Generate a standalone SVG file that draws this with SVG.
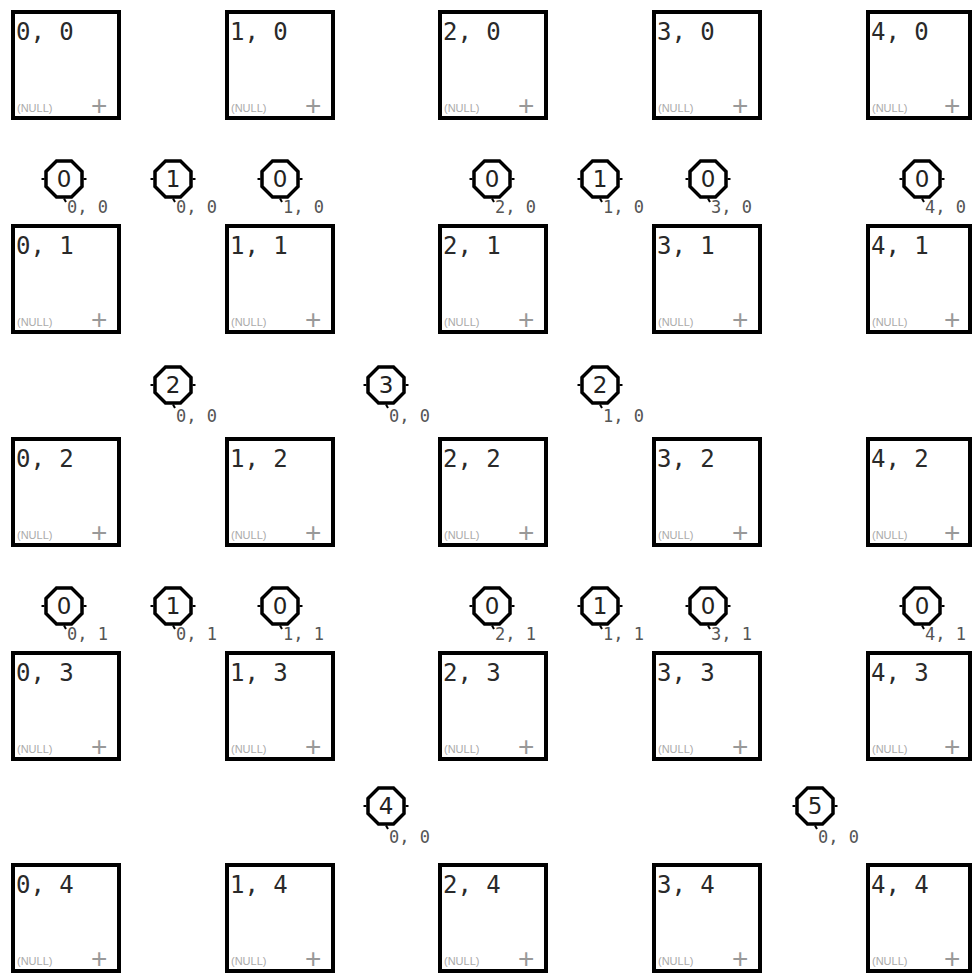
<svg xmlns="http://www.w3.org/2000/svg" width="972" height="974" viewBox="0 0 972 974">
<style>
.box{fill:#fff;stroke:#000;stroke-width:4}
.bl{font-family:"DejaVu Sans Mono",monospace;font-size:24px;fill:#2a2a2a}
.nl{font-family:"Liberation Sans",sans-serif;font-size:11px;fill:#aaa}
.pl{font-family:"Liberation Sans",sans-serif;font-size:28px;fill:#999}
.oct{fill:#fff;stroke:#000;stroke-width:3.5}
.tick{stroke:#000;stroke-width:2}
.dg{font-family:"DejaVu Sans",sans-serif;font-size:23px;fill:#222;text-anchor:middle}
.sl{font-family:"DejaVu Sans Mono",monospace;font-size:17px;fill:#555}
</style>
<defs>
<g id="octa">
<polygon class="oct" points="18,-7.5 7.5,-18 -7.5,-18 -18,-7.5 -18,7.5 -7.5,18 7.5,18 18,7.5"/>
<line class="tick" x1="-19.5" y1="0" x2="-22.5" y2="0"/>
<line class="tick" x1="19.5" y1="0" x2="22.5" y2="0"/>
<line class="tick" x1="0" y1="19.5" x2="2" y2="23"/>
</g>
<rect id="bx" class="box" x="2" y="2" width="106" height="106"/>
<rect id="bxe" class="box" x="2" y="2" width="102" height="106"/>
</defs>
<rect width="972" height="974" fill="#fff"/>
<g id="connectors"/>
<g id="cells">
<g id="c0_0" transform="translate(11,10)"><use href="#bx"/><text class="bl" x="5" y="30">0, 0</text><text class="nl" x="6" y="102">(NULL)</text><text class="pl" x="80" y="105">+</text></g>
<g id="c1_0" transform="translate(225,10)"><use href="#bx"/><text class="bl" x="5" y="30">1, 0</text><text class="nl" x="6" y="102">(NULL)</text><text class="pl" x="80" y="105">+</text></g>
<g id="c2_0" transform="translate(438,10)"><use href="#bx"/><text class="bl" x="5" y="30">2, 0</text><text class="nl" x="6" y="102">(NULL)</text><text class="pl" x="80" y="105">+</text></g>
<g id="c3_0" transform="translate(652,10)"><use href="#bx"/><text class="bl" x="5" y="30">3, 0</text><text class="nl" x="6" y="102">(NULL)</text><text class="pl" x="80" y="105">+</text></g>
<g id="c4_0" transform="translate(866,10)"><use href="#bxe"/><text class="bl" x="5" y="30">4, 0</text><text class="nl" x="6" y="102">(NULL)</text><text class="pl" x="78" y="105">+</text></g>

<g id="c0_1" transform="translate(11,224)"><use href="#bx"/><text class="bl" x="5" y="30">0, 1</text><text class="nl" x="6" y="102">(NULL)</text><text class="pl" x="80" y="105">+</text></g>
<g id="c1_1" transform="translate(225,224)"><use href="#bx"/><text class="bl" x="5" y="30">1, 1</text><text class="nl" x="6" y="102">(NULL)</text><text class="pl" x="80" y="105">+</text></g>
<g id="c2_1" transform="translate(438,224)"><use href="#bx"/><text class="bl" x="5" y="30">2, 1</text><text class="nl" x="6" y="102">(NULL)</text><text class="pl" x="80" y="105">+</text></g>
<g id="c3_1" transform="translate(652,224)"><use href="#bx"/><text class="bl" x="5" y="30">3, 1</text><text class="nl" x="6" y="102">(NULL)</text><text class="pl" x="80" y="105">+</text></g>
<g id="c4_1" transform="translate(866,224)"><use href="#bxe"/><text class="bl" x="5" y="30">4, 1</text><text class="nl" x="6" y="102">(NULL)</text><text class="pl" x="78" y="105">+</text></g>

<g id="c0_2" transform="translate(11,437)"><use href="#bx"/><text class="bl" x="5" y="30">0, 2</text><text class="nl" x="6" y="102">(NULL)</text><text class="pl" x="80" y="105">+</text></g>
<g id="c1_2" transform="translate(225,437)"><use href="#bx"/><text class="bl" x="5" y="30">1, 2</text><text class="nl" x="6" y="102">(NULL)</text><text class="pl" x="80" y="105">+</text></g>
<g id="c2_2" transform="translate(438,437)"><use href="#bx"/><text class="bl" x="5" y="30">2, 2</text><text class="nl" x="6" y="102">(NULL)</text><text class="pl" x="80" y="105">+</text></g>
<g id="c3_2" transform="translate(652,437)"><use href="#bx"/><text class="bl" x="5" y="30">3, 2</text><text class="nl" x="6" y="102">(NULL)</text><text class="pl" x="80" y="105">+</text></g>
<g id="c4_2" transform="translate(866,437)"><use href="#bxe"/><text class="bl" x="5" y="30">4, 2</text><text class="nl" x="6" y="102">(NULL)</text><text class="pl" x="78" y="105">+</text></g>

<g id="c0_3" transform="translate(11,651)"><use href="#bx"/><text class="bl" x="5" y="30">0, 3</text><text class="nl" x="6" y="102">(NULL)</text><text class="pl" x="80" y="105">+</text></g>
<g id="c1_3" transform="translate(225,651)"><use href="#bx"/><text class="bl" x="5" y="30">1, 3</text><text class="nl" x="6" y="102">(NULL)</text><text class="pl" x="80" y="105">+</text></g>
<g id="c2_3" transform="translate(438,651)"><use href="#bx"/><text class="bl" x="5" y="30">2, 3</text><text class="nl" x="6" y="102">(NULL)</text><text class="pl" x="80" y="105">+</text></g>
<g id="c3_3" transform="translate(652,651)"><use href="#bx"/><text class="bl" x="5" y="30">3, 3</text><text class="nl" x="6" y="102">(NULL)</text><text class="pl" x="80" y="105">+</text></g>
<g id="c4_3" transform="translate(866,651)"><use href="#bxe"/><text class="bl" x="5" y="30">4, 3</text><text class="nl" x="6" y="102">(NULL)</text><text class="pl" x="78" y="105">+</text></g>

<g id="c0_4" transform="translate(11,863)"><use href="#bx"/><text class="bl" x="5" y="30">0, 4</text><text class="nl" x="6" y="102">(NULL)</text><text class="pl" x="80" y="105">+</text></g>
<g id="c1_4" transform="translate(225,863)"><use href="#bx"/><text class="bl" x="5" y="30">1, 4</text><text class="nl" x="6" y="102">(NULL)</text><text class="pl" x="80" y="105">+</text></g>
<g id="c2_4" transform="translate(438,863)"><use href="#bx"/><text class="bl" x="5" y="30">2, 4</text><text class="nl" x="6" y="102">(NULL)</text><text class="pl" x="80" y="105">+</text></g>
<g id="c3_4" transform="translate(652,863)"><use href="#bx"/><text class="bl" x="5" y="30">3, 4</text><text class="nl" x="6" y="102">(NULL)</text><text class="pl" x="80" y="105">+</text></g>
<g id="c4_4" transform="translate(866,863)"><use href="#bxe"/><text class="bl" x="5" y="30">4, 4</text><text class="nl" x="6" y="102">(NULL)</text><text class="pl" x="78" y="105">+</text></g>
</g>
<g id="markers">
<g id="m_a1" transform="translate(64,179)"><use href="#octa"/><text class="dg" x="0" y="8">0</text><text class="sl" x="3" y="34">0, 0</text></g>
<g id="m_a2" transform="translate(173,179)"><use href="#octa"/><text class="dg" x="0" y="8">1</text><text class="sl" x="3" y="34">0, 0</text></g>
<g id="m_a3" transform="translate(280,179)"><use href="#octa"/><text class="dg" x="0" y="8">0</text><text class="sl" x="3" y="34">1, 0</text></g>
<g id="m_a4" transform="translate(492,179)"><use href="#octa"/><text class="dg" x="0" y="8">0</text><text class="sl" x="3" y="34">2, 0</text></g>
<g id="m_a5" transform="translate(600,179)"><use href="#octa"/><text class="dg" x="0" y="8">1</text><text class="sl" x="3" y="34">1, 0</text></g>
<g id="m_a6" transform="translate(708,179)"><use href="#octa"/><text class="dg" x="0" y="8">0</text><text class="sl" x="3" y="34">3, 0</text></g>
<g id="m_a7" transform="translate(922,179)"><use href="#octa"/><text class="dg" x="0" y="8">0</text><text class="sl" x="3" y="34">4, 0</text></g>

<g id="m_b1" transform="translate(173,385)"><use href="#octa"/><text class="dg" x="0" y="8">2</text><text class="sl" x="3" y="37">0, 0</text></g>
<g id="m_b2" transform="translate(386,385)"><use href="#octa"/><text class="dg" x="0" y="8">3</text><text class="sl" x="3" y="37">0, 0</text></g>
<g id="m_b3" transform="translate(600,385)"><use href="#octa"/><text class="dg" x="0" y="8">2</text><text class="sl" x="3" y="37">1, 0</text></g>

<g id="m_c1" transform="translate(64,606)"><use href="#octa"/><text class="dg" x="0" y="8">0</text><text class="sl" x="3" y="34">0, 1</text></g>
<g id="m_c2" transform="translate(173,606)"><use href="#octa"/><text class="dg" x="0" y="8">1</text><text class="sl" x="3" y="34">0, 1</text></g>
<g id="m_c3" transform="translate(280,606)"><use href="#octa"/><text class="dg" x="0" y="8">0</text><text class="sl" x="3" y="34">1, 1</text></g>
<g id="m_c4" transform="translate(492,606)"><use href="#octa"/><text class="dg" x="0" y="8">0</text><text class="sl" x="3" y="34">2, 1</text></g>
<g id="m_c5" transform="translate(600,606)"><use href="#octa"/><text class="dg" x="0" y="8">1</text><text class="sl" x="3" y="34">1, 1</text></g>
<g id="m_c6" transform="translate(708,606)"><use href="#octa"/><text class="dg" x="0" y="8">0</text><text class="sl" x="3" y="34">3, 1</text></g>
<g id="m_c7" transform="translate(922,606)"><use href="#octa"/><text class="dg" x="0" y="8">0</text><text class="sl" x="3" y="34">4, 1</text></g>

<g id="m_d1" transform="translate(386,806)"><use href="#octa"/><text class="dg" x="0" y="8">4</text><text class="sl" x="3" y="37">0, 0</text></g>
<g id="m_d2" transform="translate(815,806)"><use href="#octa"/><text class="dg" x="0" y="8">5</text><text class="sl" x="3" y="37">0, 0</text></g>
</g>
</svg>
